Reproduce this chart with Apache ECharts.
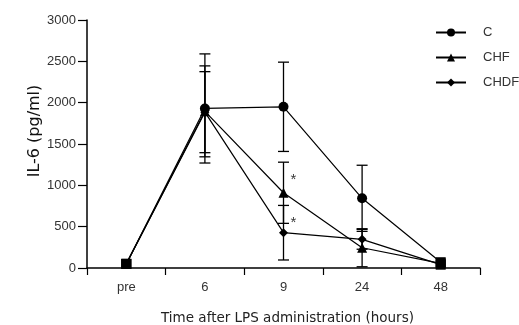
<!DOCTYPE html>
<html><head><meta charset="utf-8">
<script src="https://cdn.jsdelivr.net/npm/echarts@6/dist/echarts.min.js"></script>
<style>html,body{margin:0;padding:0;background:#fff}#c{width:519px;height:325px}</style>
</head><body><div id="c"></div>
<script>
var categories = ['pre', '6', '9', '24', '48'];
var seriesNames = ['C', 'CHF', 'CHDF'];
var cMean = [50, 1930, 1950, 843, 70];
var cErr = [0, 660, 540, 400, 0];
var chfMean = [50, 1895, 910, 245, 55];
var chfErr = [0, 550, 370, 230, 0];
var chdfMean = [50, 1885, 427, 347, 40];
var chdfErr = [0, 490, 330, 120, 0];
var starValues = [1110, 590];
var yTicks = [0, 500, 1000, 1500, 2000, 2500, 3000];

var FONT = 'Liberation Sans';
var TFONT = 'DejaVu Sans';
var chart = echarts.init(document.getElementById('c'));

function lineData(means) {
  return means.map(function (v, i) {
    var edge = (i === 0 || i === means.length - 1);
    return edge ? { value: v, symbol: 'rect', symbolSize: 10 } : v;
  });
}
function errData(means, errs) {
  return means.map(function (v, i) { return [i, v - errs[i], v + errs[i]]; })
    .filter(function (d, i) { return errs[i] > 0; });
}
function errSeries(means, errs) {
  return {
    type: 'custom', silent: true, z: 1,
    data: errData(means, errs),
    renderItem: function (params, api) {
      var lo = api.coord([api.value(0), api.value(1)]);
      var hi = api.coord([api.value(0), api.value(2)]);
      var w = 5.5;
      var st = { stroke: '#000', lineWidth: 1.3 };
      return { type: 'group', children: [
        { type: 'line', shape: { x1: lo[0], y1: lo[1], x2: hi[0], y2: hi[1] }, style: st },
        { type: 'line', shape: { x1: lo[0] - w, y1: lo[1], x2: lo[0] + w, y2: lo[1] }, style: st },
        { type: 'line', shape: { x1: hi[0] - w, y1: hi[1], x2: hi[0] + w, y2: hi[1] }, style: st }
      ]};
    }
  };
}
function lineSeries(name, means, symbol, size) {
  return {
    name: name, type: 'line', data: lineData(means),
    symbol: symbol, symbolSize: size, z: 3,
    lineStyle: { color: '#000', width: 1.2 },
    itemStyle: { color: '#000' },
    showAllSymbol: true
  };
}

chart.setOption({
  animation: false,
  grid: { left: 87, right: 39, top: 20, bottom: 57, containLabel: false, outerBoundsMode: 'none' },
  legend: {
    data: seriesNames, orient: 'vertical', left: 430, top: 21,
    itemWidth: 30, itemHeight: 10, itemGap: 12,
    textStyle: { fontFamily: FONT, fontSize: 13, color: '#333', padding: [0, 0, 0, 12] }
  },
  xAxis: {
    type: 'category', data: categories, boundaryGap: true,
    name: 'Time after LPS administration (hours)', nameLocation: 'middle', nameGap: 43,
    nameTextStyle: { fontFamily: TFONT, fontSize: 13.5, color: '#222', padding: [0, 0, 0, 8] },
    axisLine: { lineStyle: { color: '#000', width: 1.5 } },
    axisTick: { show: true, length: 7, lineStyle: { color: '#000', width: 1.2 } },
    axisLabel: { fontFamily: FONT, fontSize: 13, color: '#333', margin: 13 }
  },
  yAxis: {
    type: 'value', min: yTicks[0], max: yTicks[yTicks.length - 1], interval: 500,
    name: 'IL-6 (pg/ml)', nameLocation: 'middle', nameGap: 44, nameMoveOverlap: false,
    nameTextStyle: { fontFamily: TFONT, fontSize: 16, color: '#111', padding: [0, 0, 0, 26] },
    splitLine: { show: false },
    axisLine: { show: true, lineStyle: { color: '#000', width: 1.5 } },
    axisTick: { show: true, length: 9, lineStyle: { color: '#000', width: 1.2 } },
    axisLabel: { fontFamily: FONT, fontSize: 13, color: '#333', margin: 11,
                 formatter: function (v) { return String(v); } }
  },
  series: [
    errSeries(cMean, cErr),
    errSeries(chfMean, chfErr),
    errSeries(chdfMean, chdfErr),
    lineSeries('C', cMean, 'circle', 10),
    lineSeries('CHF', chfMean, 'triangle', 10),
    lineSeries('CHDF', chdfMean, 'diamond', 9),
    {
      type: 'scatter', silent: true, symbolSize: 0,
      data: starValues.map(function (v) { return [2, v]; }),
      label: { show: true, formatter: '*', position: 'inside', offset: [10, 4],
               fontFamily: FONT, fontSize: 15, color: '#000' }
    }
  ]
});
</script></body></html>
